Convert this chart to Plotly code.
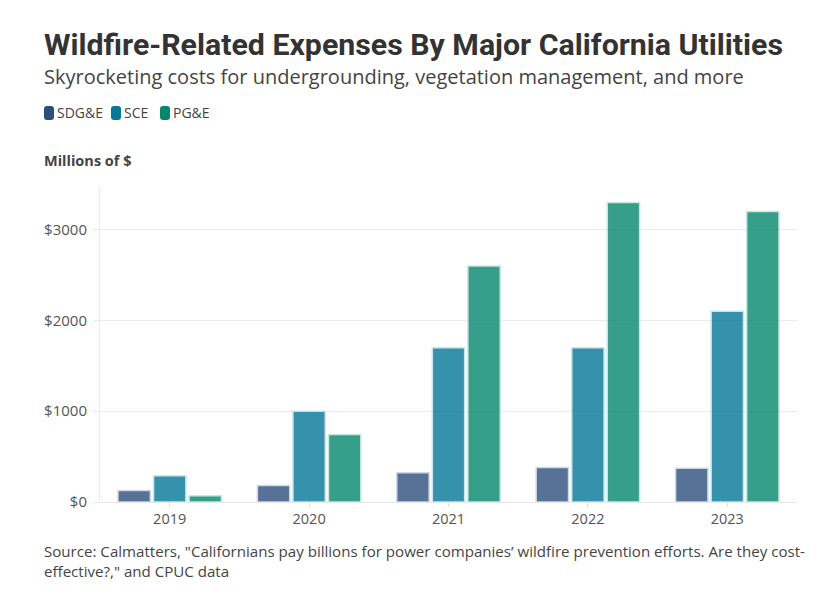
import plotly.graph_objects as go

# Data (millions of dollars)
years = ["2019", "2020", "2021", "2022", "2023"]
sdge = [128, 183, 323, 380, 373]
sce = [290, 1000, 1700, 1700, 2100]
pge = [70, 744, 2600, 3300, 3200]

series_names = ["SDG&E", "SCE", "PG&E"]
series_colors = ["#2e4f7e", "#047898", "#04886e"]
edge_colors = ["#c4cfe0", "#bfe0ea", "#b9e3d9"]

FONT = "Open Sans"
# the page body has an 8px margin, so the figure is drawn 8px in from the window edge
OFF = 8
W, H = 837 - OFF, 604 - OFF
L, R, T, B = 100 - OFF, 40, 187 - OFF, 102
PW, PH = W - L - R, H - T - B


def px_x(px):
    # window pixel -> paper coordinate
    return (px - OFF - L) / PW


def px_y(py):
    return (H - B - (py - OFF)) / PH


fig = go.Figure()

for name, vals, color, edge in zip(series_names, [sdge, sce, pge], series_colors, edge_colors):
    fig.add_trace(go.Bar(
        name=name,
        x=years,
        y=vals,
        marker=dict(color=color, opacity=0.8, line=dict(color=edge, width=1.5)),
        hovertemplate="%{x}: $%{y}M<extra>" + name + "</extra>",
        showlegend=False,
    ))

fig.update_layout(
    width=W,
    height=H,
    paper_bgcolor="white",
    plot_bgcolor="white",
    font=dict(family=FONT, size=14, color="#555555"),
    margin=dict(l=L, r=R, t=T, b=B, autoexpand=False),
    barmode="group",
    bargap=0.235,
    bargroupgap=0.09,
    showlegend=False,
    xaxis=dict(
        automargin=False,
        showgrid=False,
        ticks="outside",
        ticklen=4,
        tickcolor="#e0e0e0",
        tickfont=dict(size=14.5, color="#555555"),
        showline=False,
    ),
    yaxis=dict(
        automargin=False,
        range=[0, 3470],
        dtick=1000,
        tickprefix="$",
        tickformat="d",
        showgrid=True,
        gridcolor="#ebebeb",
        zeroline=True,
        zerolinecolor="#e6e6e6",
        zerolinewidth=1,
        showline=True,
        linecolor="#ebebeb",
        linewidth=1,
        ticks="outside",
        ticklen=6,
        tickcolor="#ebebeb",
        tickfont=dict(size=15, color="#555555"),
        ticklabelstandoff=3,
    ),
)

# hand-drawn legend with rounded swatches
legend_x = [44, 111, 160]
for name, color, lx in zip(series_names, series_colors, legend_x):
    fig.add_shape(
        type="path",
        xref="paper", yref="paper",
        xsizemode="pixel", ysizemode="pixel",
        xanchor=px_x(lx + 5), yanchor=px_y(113),
        path="M -2,-7 L 2,-7 Q 5,-7 5,-4 L 5,4 Q 5,7 2,7 L -2,7 Q -5,7 -5,4 L -5,-4 Q -5,-7 -2,-7 Z",
        fillcolor=color, line=dict(width=0),
    )
    fig.add_annotation(
        text=name, xref="paper", yref="paper",
        x=px_x(lx + 11), y=px_y(113), xanchor="left", yanchor="middle",
        showarrow=False, font=dict(family=FONT, size=14, color="#444444"),
    )

fig.add_annotation(
    text="<b>Wildfire-Related Expenses By Major California Utilities</b>",
    xref="paper", yref="paper", x=px_x(42), y=px_y(44),
    xanchor="left", yanchor="middle", showarrow=False,
    font=dict(family="Roboto", size=30.3, color="#333333"),
)
fig.add_annotation(
    text="Skyrocketing costs for undergrounding, vegetation management, and more",
    xref="paper", yref="paper", x=px_x(42), y=px_y(77),
    xanchor="left", yanchor="middle", showarrow=False,
    font=dict(family=FONT, size=20, color="#444444"),
)
fig.add_annotation(
    text="<b>Millions of $</b>",
    xref="paper", yref="paper", x=px_x(42), y=px_y(160),
    xanchor="left", yanchor="middle", showarrow=False,
    font=dict(family=FONT, size=14.5, color="#444444"),
)
fig.add_annotation(
    text="Source: Calmatters, \"Californians pay billions for power companies’ wildfire prevention efforts. Are they cost-<br>effective?,\" and CPUC data",
    xref="paper", yref="paper", x=px_x(42), y=px_y(561),
    xanchor="left", yanchor="middle", align="left", showarrow=False,
    font=dict(family=FONT, size=15.1, color="#444444"),
)

fig.write_html("out.html")
